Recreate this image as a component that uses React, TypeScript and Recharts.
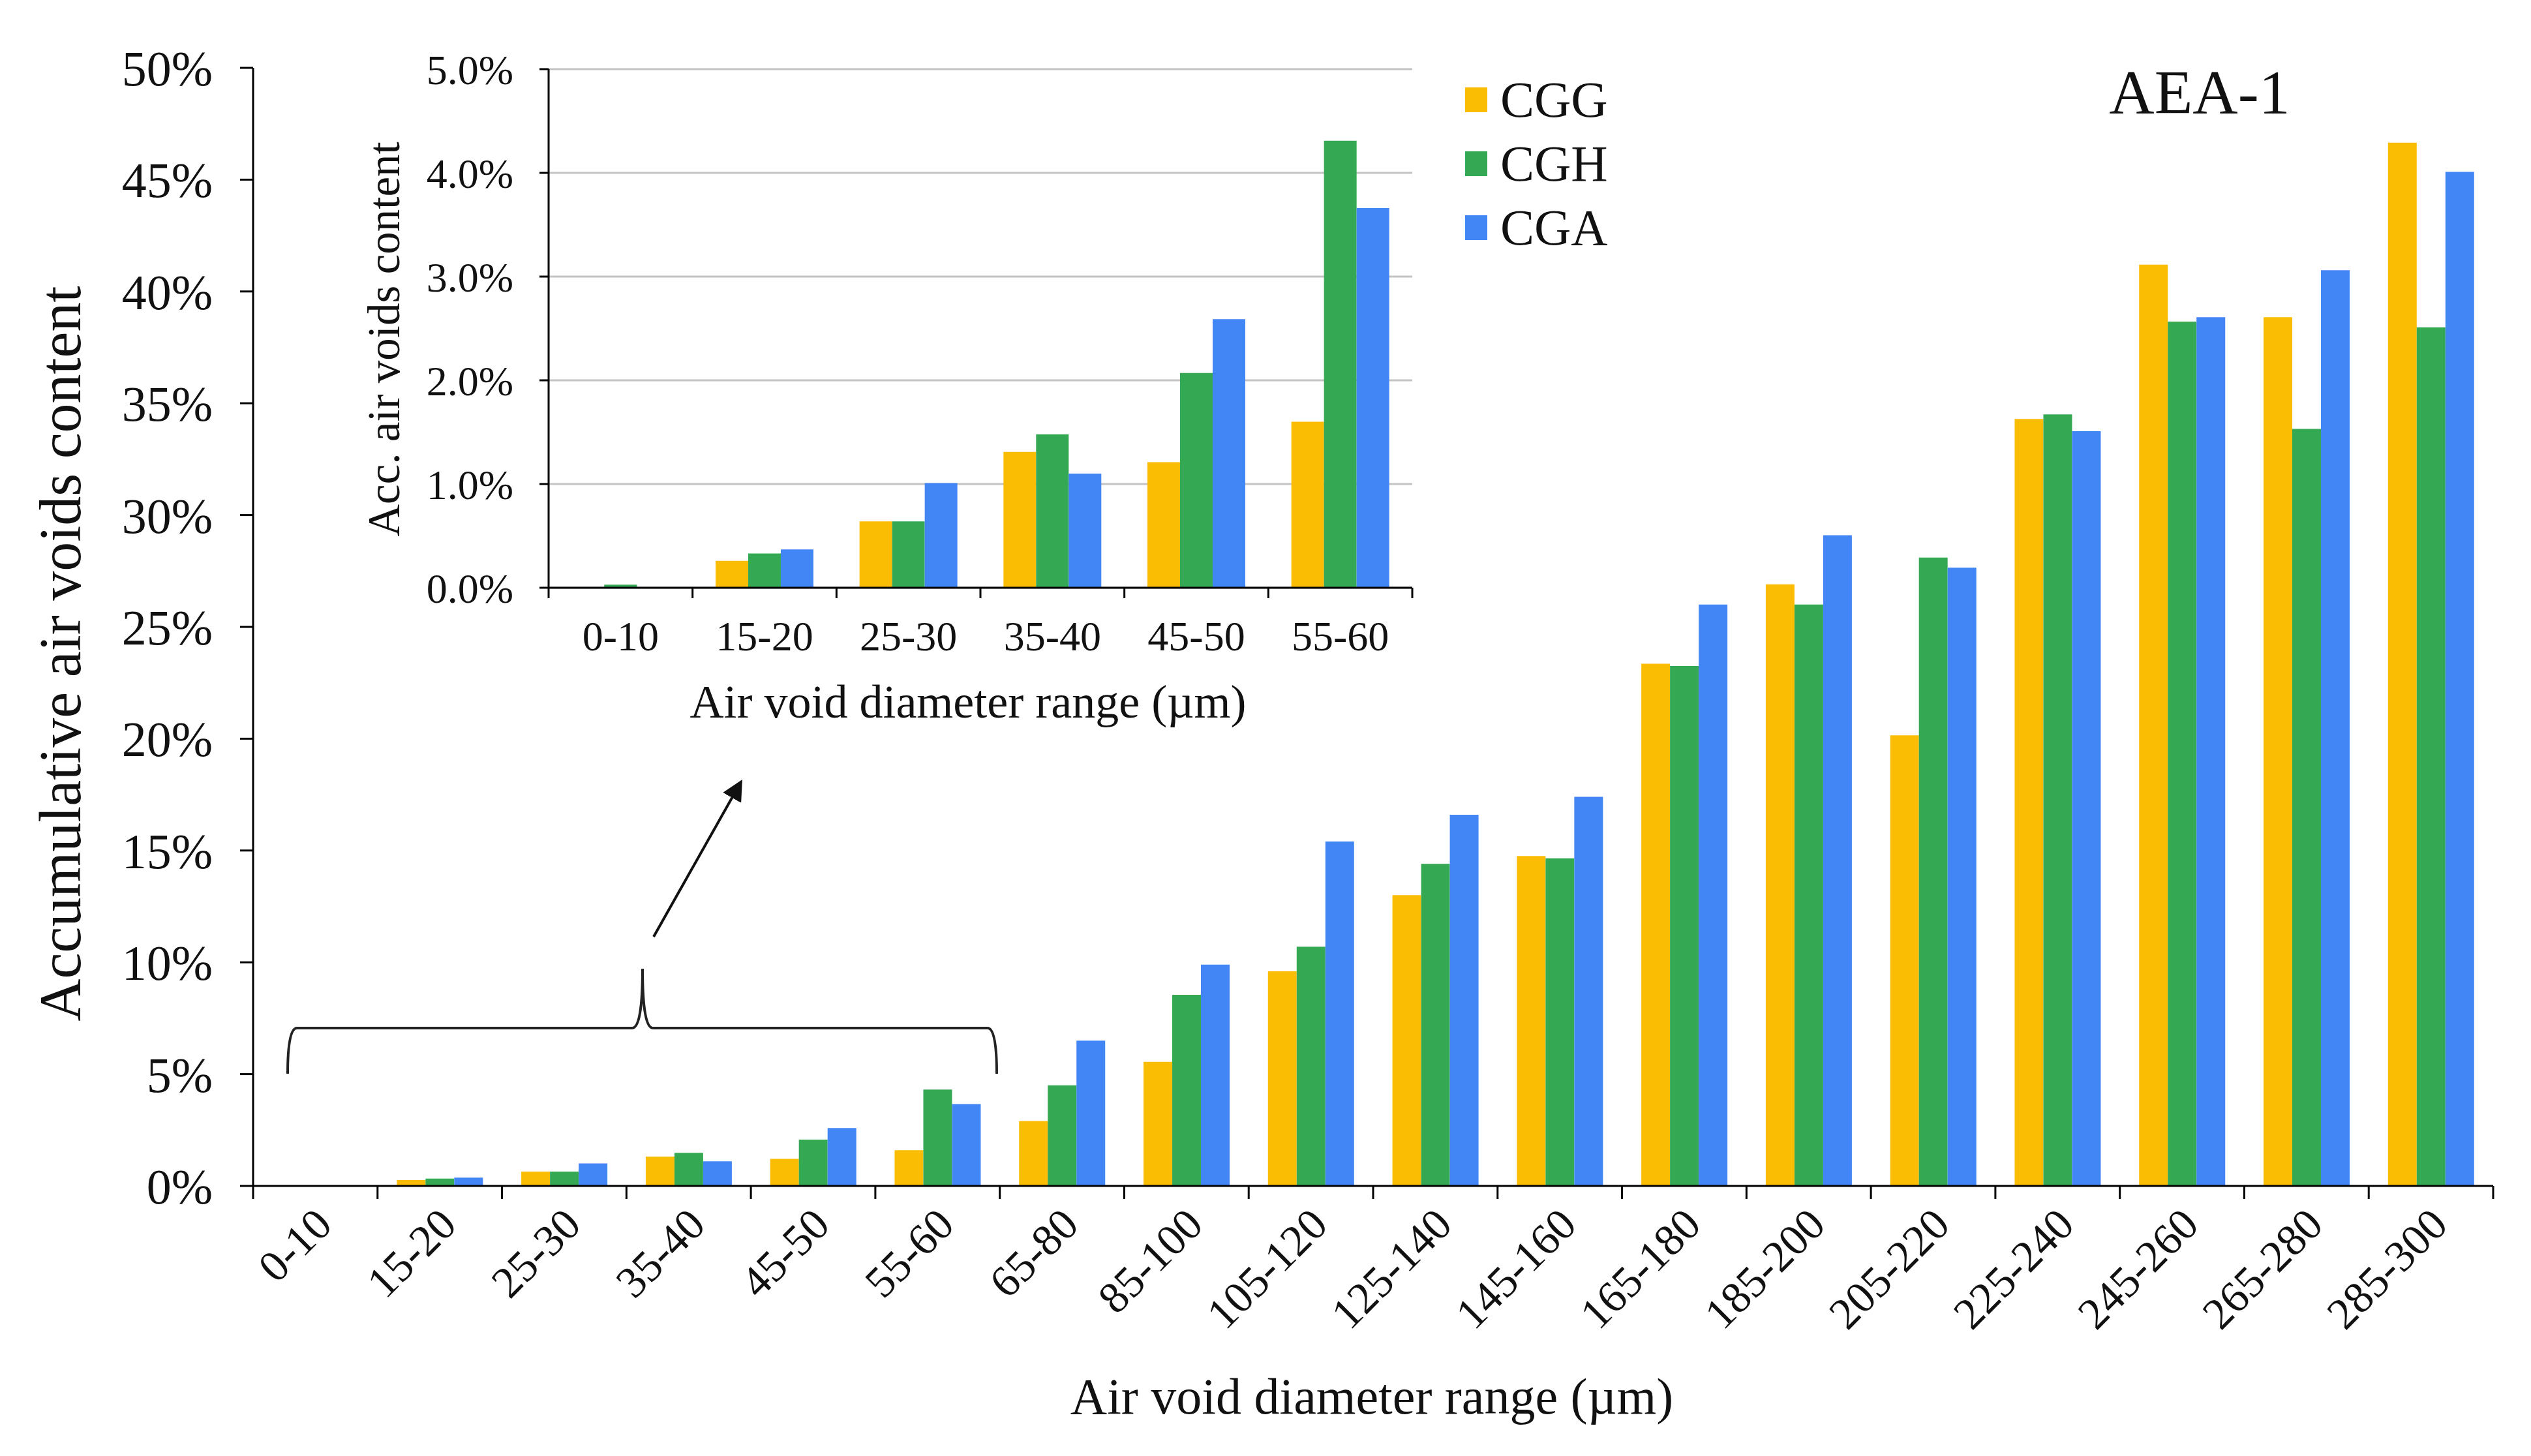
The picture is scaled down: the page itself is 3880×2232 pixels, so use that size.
import React from "react";
import { BarChart, Bar, XAxis, YAxis, CartesianGrid } from "recharts";

// Air void diameter ranges (µm)
const categories = [
  "0-10", "15-20", "25-30", "35-40", "45-50", "55-60", "65-80", "85-100", "105-120",
  "125-140", "145-160", "165-180", "185-200", "205-220", "225-240", "245-260", "265-280", "285-300",
];

// accumulative air voids content, %
const cgg = [0, 0.26, 0.64, 1.31, 1.21, 1.6, 2.9, 5.55, 9.6, 13.0, 14.75, 23.35, 26.9, 20.15, 34.3, 41.2, 38.85, 46.65];
const cgh = [0.03, 0.33, 0.64, 1.48, 2.07, 4.31, 4.5, 8.55, 10.7, 14.4, 14.65, 23.25, 26.0, 28.1, 34.5, 38.65, 33.85, 38.4];
const cga = [0, 0.37, 1.01, 1.1, 2.59, 3.66, 6.5, 9.9, 15.4, 16.6, 17.4, 26.0, 29.1, 27.65, 33.75, 38.85, 40.95, 45.35];

const mainTicks = [0, 5, 10, 15, 20, 25, 30, 35, 40, 45, 50];
const insetTicks = [0, 1, 2, 3, 4, 5];
const insetCount = 6; // first six ranges are zoomed in the inset

const series = [
  { key: "CGG", color: "#FBBC04" },
  { key: "CGH", color: "#34A853" },
  { key: "CGA", color: "#4285F4" },
];

const font = "'Liberation Serif', 'Times New Roman', serif";

const rows = categories.map((c, i) => ({ range: c, CGG: cgg[i], CGH: cgh[i], CGA: cga[i] }));
const insetRows = rows.slice(0, insetCount);

// plot boxes (px)
const MAIN = { left: 388, right: 3822, top: 104, bottom: 1818 };
const INSET = { left: 841, right: 2165, top: 106, bottom: 901 };
const mainBand = (MAIN.right - MAIN.left) / categories.length;
const insetBand = (INSET.right - INSET.left) / insetCount;

const MainTick = (props: any) => {
  const { x, y, payload, index } = props;
  const h = mainBand / 2;
  const tx = x + 12;
  const ty = y + 46;
  return (
    <g>
      <line x1={x - h} y1={y} x2={x - h} y2={y + 20} stroke="#000" strokeWidth={3} />
      {index === categories.length - 1 && (
        <line x1={x + h} y1={y} x2={x + h} y2={y + 20} stroke="#000" strokeWidth={3} />
      )}
      <text
        x={tx}
        y={ty}
        dy="0.35em"
        textAnchor="end"
        transform={`rotate(-45, ${tx}, ${ty})`}
        fontSize={68}
        fontFamily={font}
        fill="#111"
      >
        {payload.value}
      </text>
    </g>
  );
};

const InsetTick = (props: any) => {
  const { x, y, payload, index } = props;
  const h = insetBand / 2;
  return (
    <g>
      <line x1={x - h} y1={y} x2={x - h} y2={y + 16} stroke="#000" strokeWidth={3} />
      {index === insetCount - 1 && (
        <line x1={x + h} y1={y} x2={x + h} y2={y + 16} stroke="#000" strokeWidth={3} />
      )}
      <text x={x} y={y + 74} dy="0.35em" textAnchor="middle" fontSize={64} fontFamily={font} fill="#111">
        {payload.value}
      </text>
    </g>
  );
};

export default function App() {
  const W = 3880;
  const H = 2232;
  const mainYW = 200;
  const insetW = 2200;
  const insetH = 1100;
  const insetYW = 150;
  const insetXH = 60;

  return (
    <div style={{ position: "absolute", left: 0, top: 0, width: W, height: H, background: "#fff", overflow: "hidden" }}>
      <div style={{ position: "absolute", left: 0, top: 0 }}>
        <BarChart
          width={W}
          height={H}
          data={rows}
          margin={{ top: MAIN.top, right: W - MAIN.right, left: MAIN.left - mainYW, bottom: H - MAIN.bottom - 60 }}
          barCategoryGap="15.5%"
          barGap={0}
        >
          <XAxis
            dataKey="range"
            height={60}
            interval={0}
            tick={<MainTick />}
            tickLine={false}
            tickSize={0}
            tickMargin={0}
            axisLine={{ stroke: "#000", strokeWidth: 3 }}
          />
          <YAxis
            width={mainYW}
            domain={[0, 50]}
            ticks={mainTicks}
            interval={0}
            tickFormatter={(v) => `${v}%`}
            tick={{ fontSize: 76, fill: "#111", fontFamily: font }}
            tickSize={20}
            tickMargin={42}
            tickLine={{ stroke: "#000", strokeWidth: 3 }}
            axisLine={{ stroke: "#000", strokeWidth: 3 }}
          />
          {series.map((s) => (
            <Bar key={s.key} dataKey={s.key} fill={s.color} isAnimationActive={false} />
          ))}
        </BarChart>
      </div>

      <div style={{ position: "absolute", left: 0, top: 0 }}>
        <BarChart
          width={insetW}
          height={insetH}
          data={insetRows}
          margin={{
            top: INSET.top,
            right: insetW - INSET.right,
            left: INSET.left - insetYW,
            bottom: insetH - INSET.bottom - insetXH,
          }}
          barCategoryGap="16%"
          barGap={0}
        >
          <CartesianGrid vertical={false} stroke="#C4C4C4" strokeWidth={3} />
          <XAxis
            dataKey="range"
            height={insetXH}
            interval={0}
            tick={<InsetTick />}
            tickLine={false}
            tickSize={0}
            tickMargin={0}
            axisLine={{ stroke: "#000", strokeWidth: 3 }}
          />
          <YAxis
            width={insetYW}
            domain={[0, 5]}
            ticks={insetTicks}
            interval={0}
            tickFormatter={(v) => `${Number(v).toFixed(1)}%`}
            tick={{ fontSize: 64, fill: "#111", fontFamily: font }}
            tickSize={14}
            tickMargin={40}
            tickLine={{ stroke: "#000", strokeWidth: 3 }}
            axisLine={{ stroke: "#000", strokeWidth: 3 }}
          />
          {series.map((s) => (
            <Bar key={s.key} dataKey={s.key} fill={s.color} isAnimationActive={false} />
          ))}
        </BarChart>
      </div>

      {/* legend */}
      <div style={{ position: "absolute", left: 2246, top: 104, fontFamily: font }}>
        {series.map((s) => (
          <div key={s.key} style={{ display: "flex", alignItems: "center", height: 98 }}>
            <div style={{ width: 34, height: 38, background: s.color, marginRight: 20 }} />
            <span style={{ fontSize: 78, color: "#111", lineHeight: "98px" }}>{s.key}</span>
          </div>
        ))}
      </div>

      {/* titles and the zoom annotation */}
      <svg width={W} height={H} style={{ position: "absolute", left: 0, top: 0, pointerEvents: "none" }}>
        <defs>
          <marker id="arrowHead" markerWidth="8" markerHeight="8" refX="6" refY="4" orient="auto" markerUnits="strokeWidth">
            <path d="M0,0 L8,4 L0,8 z" fill="#111" />
          </marker>
        </defs>
        <g fontFamily={font} fill="#111">
          <text x={3372} y={141} textAnchor="middle" dominantBaseline="central" fontSize={96}>AEA-1</text>
          <text transform="translate(92, 1002) rotate(-90)" textAnchor="middle" dominantBaseline="central" fontSize={90}>
            Accumulative air voids content
          </text>
          <text x={2103} y={2140} textAnchor="middle" dominantBaseline="central" fontSize={78}>
            Air void diameter range (µm)
          </text>
          <text transform="translate(589, 520) rotate(-90)" textAnchor="middle" dominantBaseline="central" fontSize={69}>
            Acc. air voids content
          </text>
          <text x={1484} y={1076} textAnchor="middle" dominantBaseline="central" fontSize={72}>
            Air void diameter range (µm)
          </text>
        </g>
        <path
          d="M 441 1646 Q 441 1576 455 1576 L 969 1576 Q 985 1576 985 1485 Q 985 1576 1001 1576 L 1514 1576 Q 1528 1576 1528 1646"
          fill="none"
          stroke="#222"
          strokeWidth={4}
        />
        <line x1={1002} y1={1436} x2={1134} y2={1202} stroke="#111" strokeWidth={4} markerEnd="url(#arrowHead)" />
      </svg>
    </div>
  );
}
